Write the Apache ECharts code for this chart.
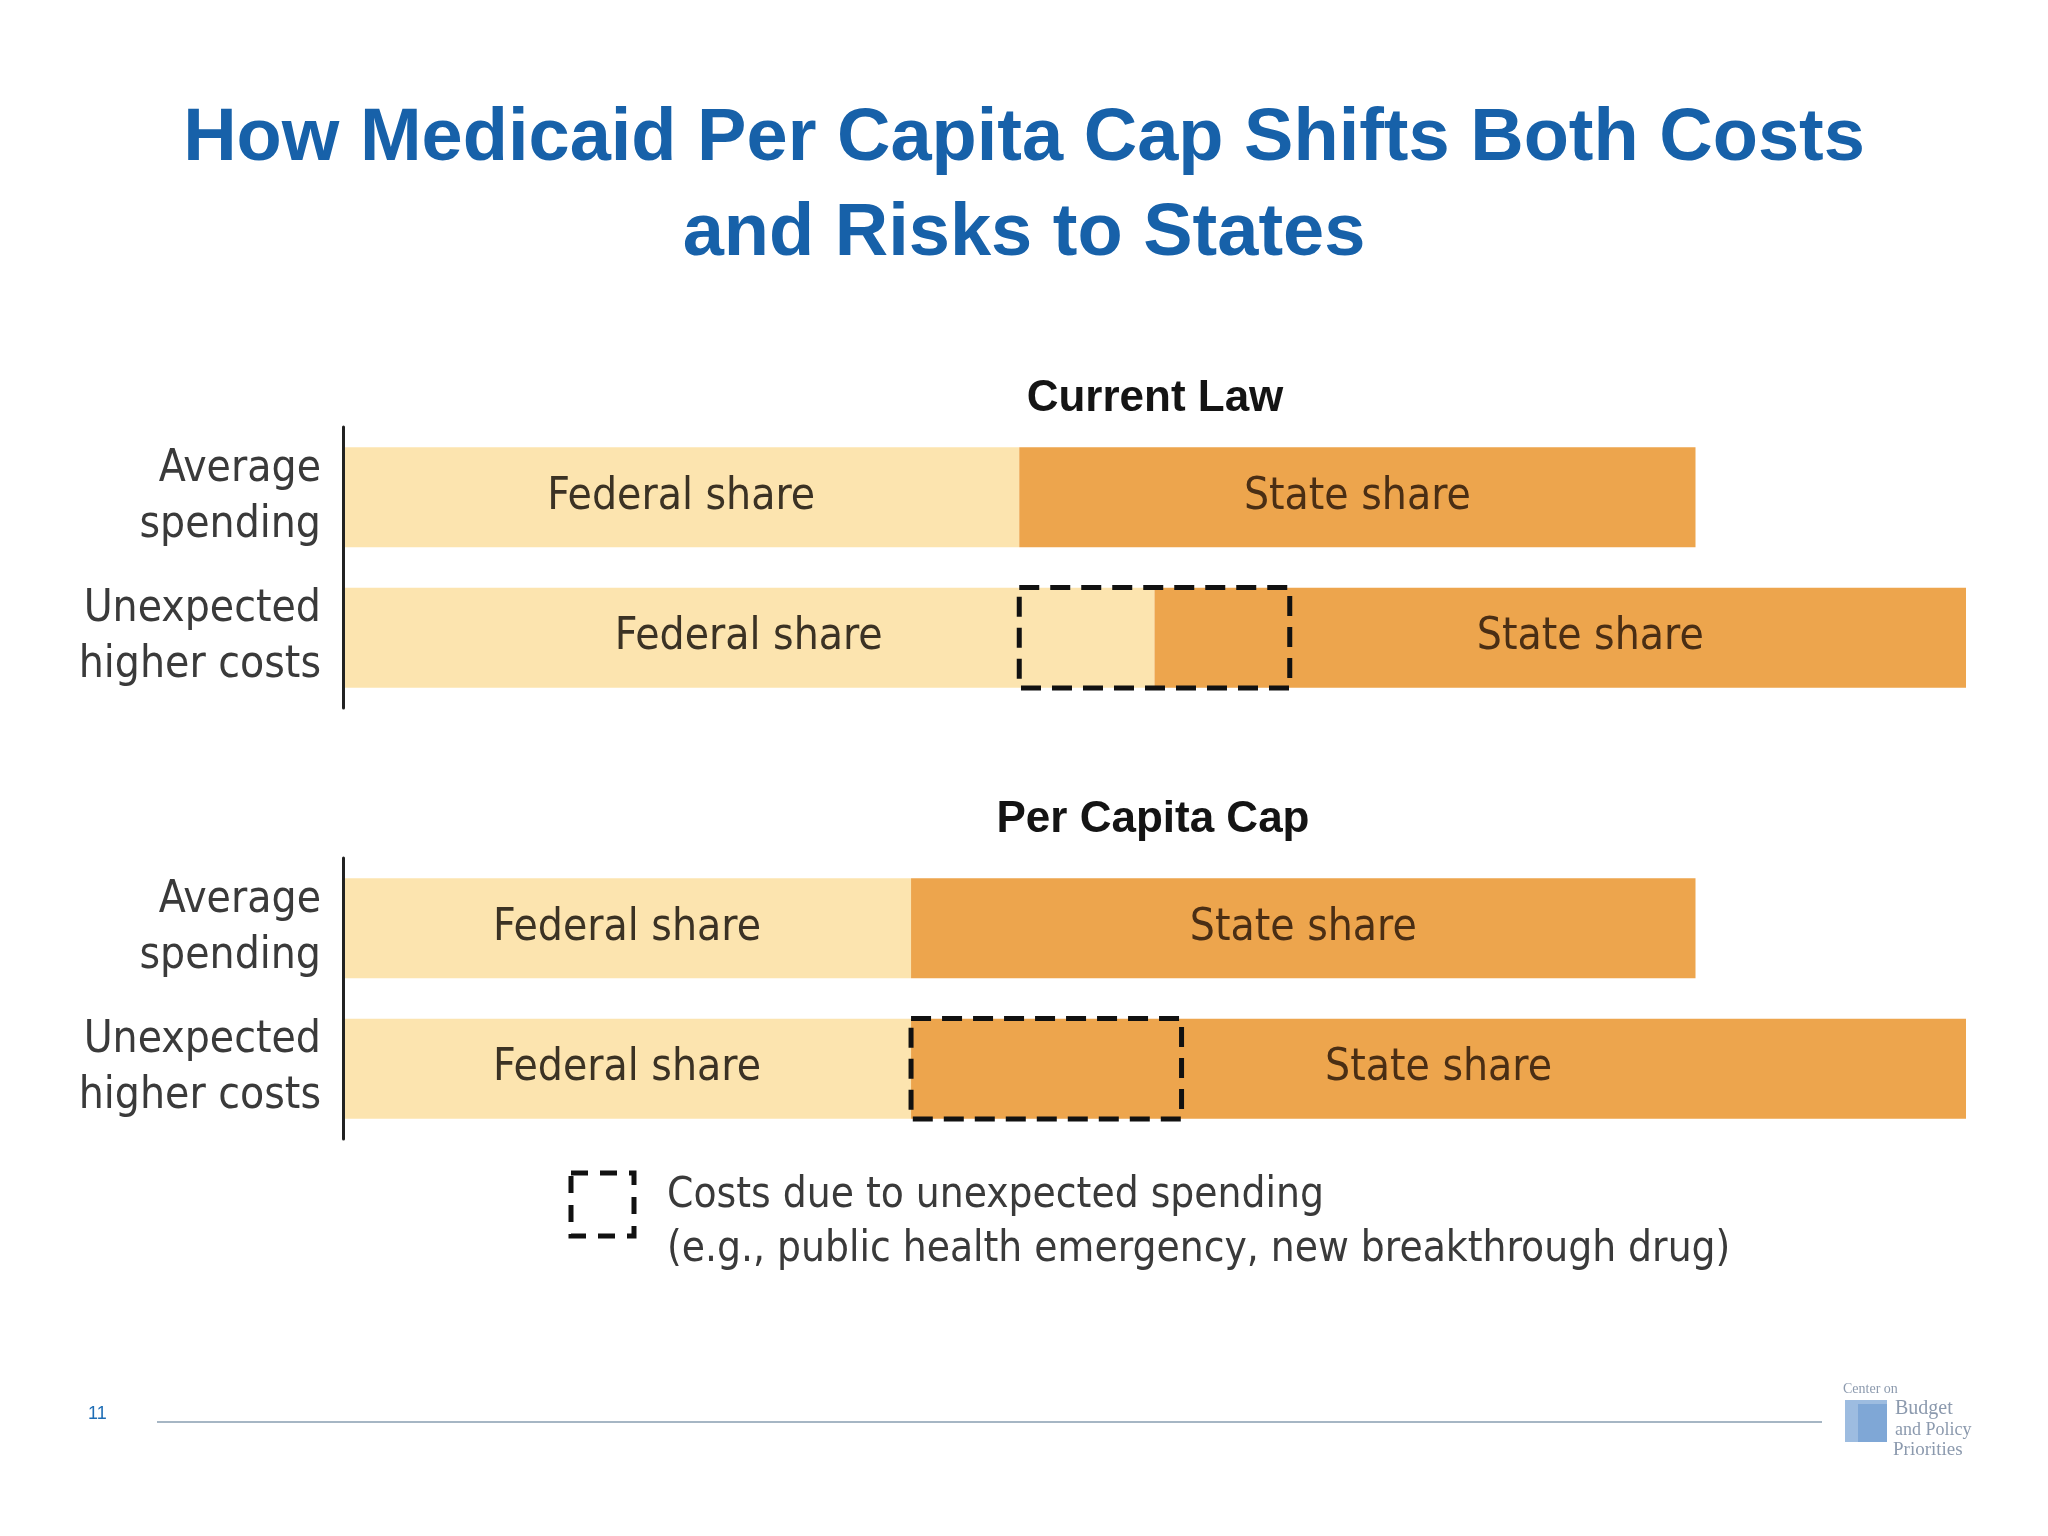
<!DOCTYPE html>
<html>
<head>
<meta charset="utf-8">
<script src="https://cdn.jsdelivr.net/npm/echarts@6/dist/echarts.min.js"></script>
<style>
html,body{margin:0;padding:0;background:#ffffff;}
#chart{width:2048px;height:1536px;}
</style>
</head>
<body>
<div id="chart"></div>
<script>
// ---- data ----
var categories = ['Average\nspending', 'Unexpected\nhigher costs'];
var currentFederal = [50, 60];
var currentState = [50, 60];
var currentUnexpected = [[50, 70, 1]];   // [start, end, row]
var capFederal = [42, 42];
var capState = [58, 78];
var capUnexpected = [[42, 62, 1]];
var panelTitles = ['Current Law', 'Per Capita Cap'];
var titleLines = 'How Medicaid Per Capita Cap Shifts Both Costs\nand Risks to States';
var legendLines = 'Costs due to unexpected spending\n(e.g., public health emergency, new breakthrough drug)';

var LIGHT = '#FCE4AF';
var ORANGE = '#EDA54D';
var NARROW = "'Liberation Sans Narrow', 'DejaVu Sans Condensed', 'Liberation Sans', sans-serif";
var FS = 44;

var chart = echarts.init(document.getElementById('chart'), null, {renderer: 'canvas'});

function barLabel(color) {
  return {
    show: true, position: 'inside', formatter: '{a}',
    fontFamily: NARROW, fontSize: FS, color: color
  };
}

function boxRender(params, api) {
  var p0 = api.coord([api.value(0), api.value(2)]);
  var p1 = api.coord([api.value(1), api.value(2)]);
  var h = api.size([0, 1])[1] * 0.717;
  return {
    type: 'rect',
    shape: {x: p0[0], y: p0[1] - h / 2, width: p1[0] - p0[0], height: h},
    style: {fill: 'none', stroke: '#111', lineWidth: 5, lineDash: [20, 11]}
  };
}

var grids = [
  {left: 343, width: 1623, top: 427, height: 281},
  {left: 343, width: 1623, top: 858, height: 281}
];

var xAxes = [0, 1].map(function (i) {
  return {type: 'value', gridIndex: i, min: 0, max: 120, show: false};
});
var yAxes = [0, 1].map(function (i) {
  return {
    type: 'category', gridIndex: i, data: categories, inverse: true, z: 20,
    axisLine: {show: true, lineStyle: {color: '#222', width: 3}},
    axisTick: {show: false},
    axisLabel: {fontFamily: NARROW, fontSize: FS, lineHeight: 56, color: '#3a3a3a', margin: 22, align: 'right'},
    splitLine: {show: false}
  };
});

var series = [
  {name: 'Federal share', type: 'bar', xAxisIndex: 0, yAxisIndex: 0, stack: 'a', barWidth: 100,
   itemStyle: {color: LIGHT}, label: barLabel('#3b3224'), data: currentFederal, silent: true},
  {name: 'State share', type: 'bar', xAxisIndex: 0, yAxisIndex: 0, stack: 'a', barWidth: 100,
   itemStyle: {color: ORANGE}, label: barLabel('#4a2e14'),
   data: [currentState[0], {value: currentState[1], label: {offset: [30, 0]}}], silent: true},
  {name: 'box1', type: 'custom', xAxisIndex: 0, yAxisIndex: 0, renderItem: boxRender,
   data: currentUnexpected, z: 10, silent: true},
  {name: 'Federal share', type: 'bar', xAxisIndex: 1, yAxisIndex: 1, stack: 'b', barWidth: 100,
   itemStyle: {color: LIGHT}, label: barLabel('#3b3224'), data: capFederal, silent: true},
  {name: 'State share', type: 'bar', xAxisIndex: 1, yAxisIndex: 1, stack: 'b', barWidth: 100,
   itemStyle: {color: ORANGE}, label: barLabel('#4a2e14'), data: capState, silent: true},
  {name: 'box2', type: 'custom', xAxisIndex: 1, yAxisIndex: 1, renderItem: boxRender,
   data: capUnexpected, z: 10, silent: true}
];

var graphic = [
  // main title
  {type: 'text', x: 1024, y: 92, style: {
    text: titleLines, fontFamily: "'Liberation Sans', Arial, sans-serif", fontWeight: 'bold',
    fontSize: 74, lineHeight: 95, fill: '#1761A9', align: 'center', verticalAlign: 'top'}},
  // panel titles
  {type: 'text', x: 1155, y: 399, style: {text: panelTitles[0], fontFamily: "'Liberation Sans', Arial, sans-serif",
    fontWeight: 'bold', fontSize: 44, fill: '#141414', align: 'center', verticalAlign: 'middle'}},
  {type: 'text', x: 1153, y: 820, style: {text: panelTitles[1], fontFamily: "'Liberation Sans', Arial, sans-serif",
    fontWeight: 'bold', fontSize: 44, fill: '#141414', align: 'center', verticalAlign: 'middle'}},
  // legend
  {type: 'rect', shape: {x: 571, y: 1173, width: 63, height: 63},
   style: {fill: 'none', stroke: '#111', lineWidth: 5, lineDash: [17, 12]}},
  {type: 'text', x: 667, y: 1223, style: {text: legendLines, fontFamily: NARROW, fontSize: 42, lineHeight: 54,
    fill: '#3a3a3a', align: 'left', verticalAlign: 'middle'}},
  // footer
  {type: 'text', x: 88, y: 1414, style: {text: '11', fontFamily: "'Liberation Sans', Arial, sans-serif",
    fontSize: 18, fill: '#1E6DB5', verticalAlign: 'middle'}},
  {type: 'line', shape: {x1: 157, y1: 1422, x2: 1822, y2: 1422}, style: {stroke: '#A6B6C4', lineWidth: 2}},
  // logo
  {type: 'rect', shape: {x: 1845, y: 1400, width: 42, height: 42}, style: {fill: '#9DBCE0'}},
  {type: 'rect', shape: {x: 1858, y: 1404, width: 29, height: 38}, style: {fill: '#7FA7D6'}},
  {type: 'text', x: 1843, y: 1389, style: {text: 'Center on', fontFamily: "'Liberation Serif', serif", fontSize: 14,
    fill: '#8C9AAE', verticalAlign: 'middle'}},
  {type: 'text', x: 1895, y: 1409, style: {text: 'Budget', fontFamily: "'Liberation Serif', serif", fontSize: 20,
    fill: '#8C9AAE', verticalAlign: 'middle'}},
  {type: 'text', x: 1895, y: 1430, style: {text: 'and Policy', fontFamily: "'Liberation Serif', serif", fontSize: 18,
    fill: '#8C9AAE', verticalAlign: 'middle'}},
  {type: 'text', x: 1893, y: 1450, style: {text: 'Priorities', fontFamily: "'Liberation Serif', serif", fontSize: 19,
    fill: '#8C9AAE', verticalAlign: 'middle'}}
];

chart.setOption({
  backgroundColor: '#ffffff',
  animation: false,
  grid: grids,
  xAxis: xAxes,
  yAxis: yAxes,
  series: series,
  graphic: graphic
});
</script>
</body>
</html>
